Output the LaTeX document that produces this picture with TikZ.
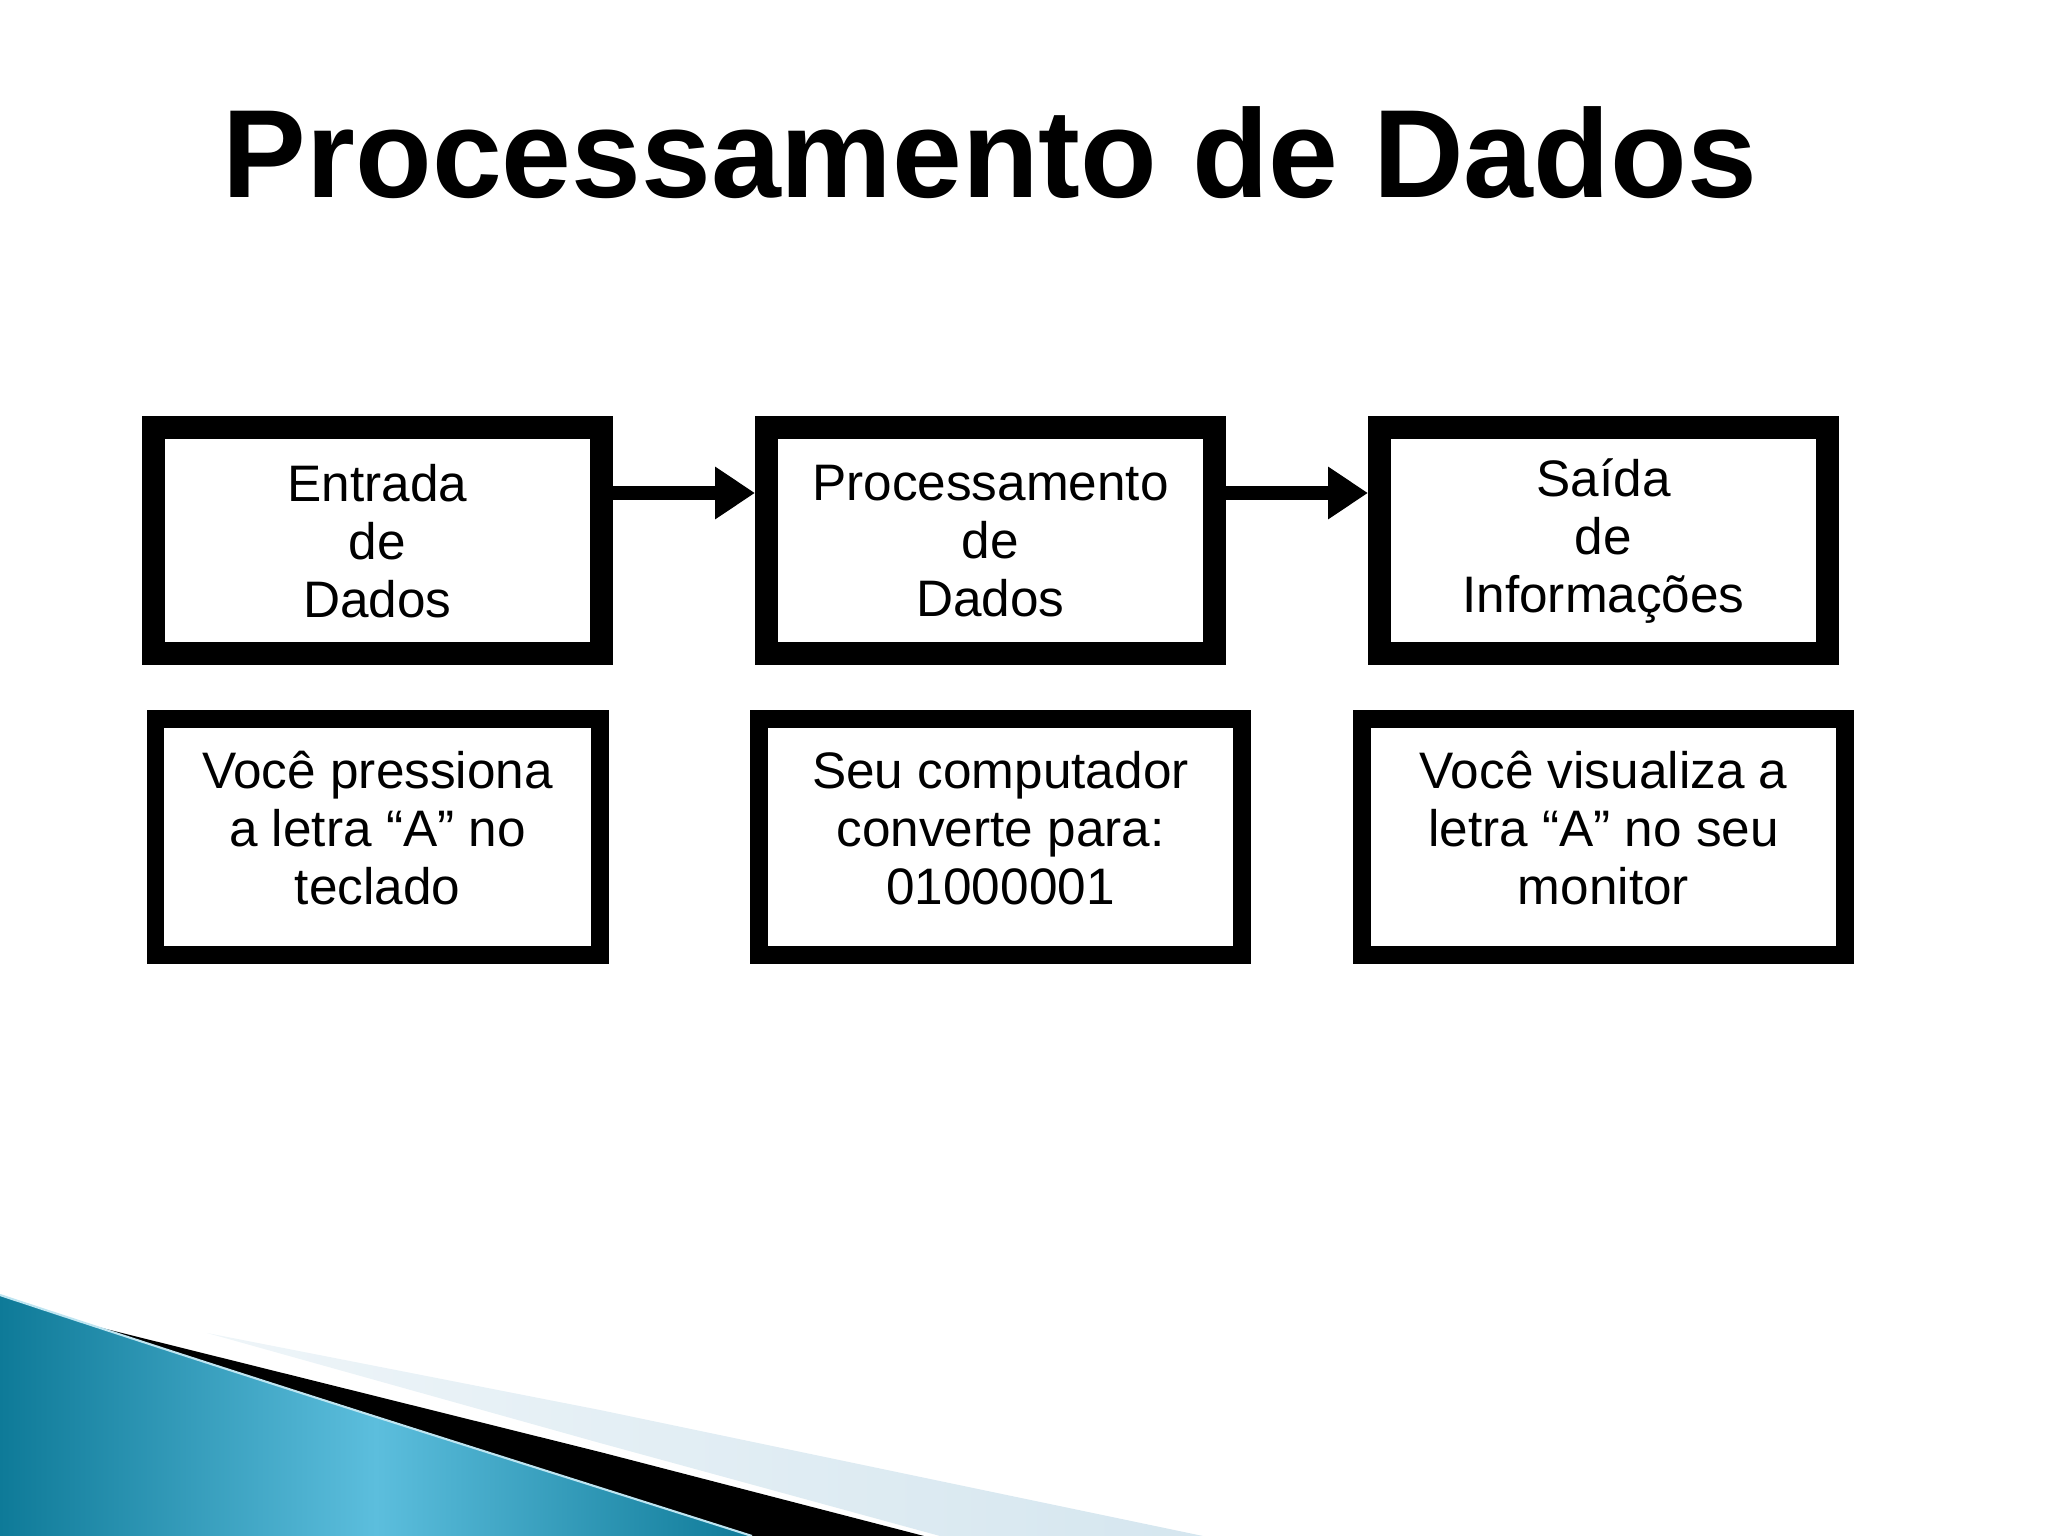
\documentclass[tikz,border=0pt]{standalone}
\usepackage{fontspec}
\setmainfont{Liberation Sans}
\usetikzlibrary{chains,arrows.meta,positioning}
\definecolor{tealdark}{HTML}{0E7A98}
\definecolor{teallight}{HTML}{5CBEDD}
\definecolor{paleblue}{HTML}{D5E6EF}
\tikzset{topbox/.style={draw, rectangle, line width=0.23cm, minimum width=4.48cm, minimum height=2.26cm, inner sep=0pt, align=center, font=\fontsize{14.6}{16.5}\selectfont},
    botbox/.style={draw, rectangle, line width=0.18cm, minimum width=4.83cm, minimum height=2.35cm, inner sep=0pt, text depth=0.18cm, align=center, font=\fontsize{14.6}{16.5}\selectfont},
    flow/.style={line width=0.14cm, -{Triangle[length=0.4cm,width=0.5cm]}},
    titletext/.style={anchor=base, inner sep=0pt, font=\fontsize{35.7}{40}\selectfont\bfseries}}

\begin{document}
\begin{tikzpicture}[start chain=going right, node distance=1.42cm]
    \useasboundingbox (0,0) rectangle (20.48,-15.36);
    % swoosh in the lower left corner
    \shade[left color=paleblue!40, right color=paleblue] (2.07,-13.33) -- (6.0,-14.1) -- (12.03,-15.36) -- (9.4,-15.36) -- (6.0,-14.43) -- cycle;
    \fill[black] (0.9,-13.25) -- (6.0,-14.52) -- (9.24,-15.36) -- (7.52,-15.36) -- cycle;
    \shade[left color=tealdark, right color=tealdark, middle color=teallight] (0,-12.95) .. controls (2.5,-13.78) and (5,-14.56) .. (7.52,-15.36) -- (0,-15.36) -- cycle;
    \draw[white!60!teallight, line width=0.6pt] (0,-12.95) .. controls (2.5,-13.78) and (5,-14.56) .. (7.52,-15.36);

    \node[titletext] (title) at (9.9,-1.98) {Processamento de Dados};

    \node[topbox,on chain] (N1) at (3.775,-5.41) {Entrada\\de\\Dados};
    \node[topbox,on chain] (N2) {Processamento\\de\\Dados};
    \node[topbox,on chain] (N3) {Saída\\de\\Informações};

    \node[botbox, minimum width=4.44cm, below=0.45cm of N1] (B1) {Você pressiona\\a letra “A” no\\teclado};
    \node[botbox, below=0.45cm of N2, xshift=0.1cm] (B2) {Seu computador\\converte para:\\01000001};
    \node[botbox, below=0.45cm of N3] (B3) {Você visualiza a\\letra “A” no seu\\monitor};

    \draw[flow] ([yshift=0.48cm]N1.east) -- ([yshift=0.48cm]N2.west);
    \draw[flow] ([yshift=0.48cm]N2.east) -- ([yshift=0.48cm]N3.west);
\end{tikzpicture}
\end{document}
